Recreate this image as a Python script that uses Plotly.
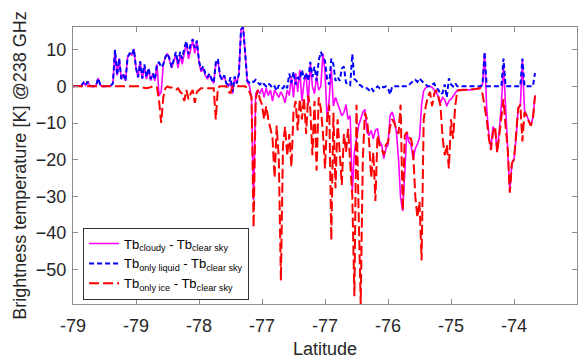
import plotly.graph_objects as go

# Latitude sampling of the track (degrees)
lat = [
    -79.500, -79.475, -79.450, -79.425, -79.400, -79.375, -79.350, -79.325, -79.300, -79.275,
    -79.250, -79.225, -79.200, -79.175, -79.150, -79.125, -79.100, -79.075, -79.050, -79.025,
    -79.000, -78.975, -78.950, -78.925, -78.900, -78.875, -78.850, -78.825, -78.800, -78.775,
    -78.750, -78.725, -78.700, -78.675, -78.650, -78.625, -78.600, -78.575, -78.550, -78.525,
    -78.500, -78.475, -78.450, -78.425, -78.400, -78.375, -78.350, -78.325, -78.300, -78.275,
    -78.250, -78.225, -78.200, -78.175, -78.150, -78.125, -78.100, -78.075, -78.050, -78.025,
    -78.000, -77.975, -77.950, -77.925, -77.900, -77.875, -77.850, -77.825, -77.800, -77.775,
    -77.750, -77.725, -77.700, -77.675, -77.650, -77.625, -77.600, -77.575, -77.550, -77.525,
    -77.500, -77.475, -77.450, -77.425, -77.400, -77.375, -77.350, -77.325, -77.300, -77.275,
    -77.250, -77.225, -77.200, -77.175, -77.150, -77.125, -77.100, -77.075, -77.050, -77.025,
    -77.000, -76.975, -76.950, -76.925, -76.900, -76.875, -76.850, -76.825, -76.800, -76.775,
    -76.750, -76.725, -76.700, -76.675, -76.650, -76.625, -76.600, -76.575, -76.550, -76.525,
    -76.500, -76.475, -76.450, -76.425, -76.400, -76.375, -76.350, -76.325, -76.300, -76.275,
    -76.250, -76.225, -76.200, -76.175, -76.150, -76.125, -76.100, -76.075, -76.050, -76.025,
    -76.000, -75.975, -75.950, -75.925, -75.900, -75.875, -75.850, -75.825, -75.800, -75.775,
    -75.750, -75.725, -75.700, -75.675, -75.650, -75.625, -75.600, -75.575, -75.550, -75.525,
    -75.500, -75.475, -75.450, -75.425, -75.400, -75.375, -75.350, -75.325, -75.300, -75.275,
    -75.250, -75.225, -75.200, -75.175, -75.150, -75.125, -75.100, -75.075, -75.050, -75.025,
    -75.000, -74.975, -74.950, -74.925, -74.900, -74.875, -74.850, -74.825, -74.800, -74.775,
    -74.750, -74.725, -74.700, -74.675, -74.650, -74.625, -74.600, -74.575, -74.550, -74.525,
    -74.500, -74.475, -74.450, -74.425, -74.400, -74.375, -74.350, -74.325, -74.300, -74.275,
    -74.250, -74.225, -74.200, -74.175, -74.150, -74.125, -74.100, -74.075, -74.050, -74.025,
    -74.000,
]

# Tb_cloudy - Tb_clear sky  [K]
tb_cloudy = [
    0, 0, 0, 0, 0.2, 1.0, 0.3, 1.3, 0.2, 0, 0, 0.3, 2.2, 0.4, 0, 0, 0, 0, 0.2, 0.8,
    10.0, 3.0, 7.6, 2.0, 3.2, 1.5, 8.0, 9.0, 8.5, 10.2, 5.0, 2.5, 6.8, 2.0, 5.5, 2.0, 4.6, 1.6, 3.5, 1.5,
    6.0, -2.5, -1.5, 6.0, 8.0, 9.0, 7.2, 5.0, 7.0, 8.5, 5.0, 8.5, 6.0, 9.0, 12.0, 7.5, 10.0, 12.5, 9.0, 12.0,
    6.5, 4.0, 5.0, 3.0, 2.0, 3.0, 1.8, 0.8, 6.0, 7.0, 2.8, 1.8, 3.0, 0.8, 0.0, 1.0, -2.0, 2.5, 0.8, 3.4,
    15.5, 16.2, 9.0, 1.2, 0.2, -3.0, -31.0, -2.0, -1.0, -2.0, -0.5, -3.0, -0.5, -2.5, -1.0, -4.0, -1.0, -2.0, -3.0, -1.5,
    -2.7, -4.5, -1.0, -2.5, 2.7, -3.0, 3.6, -1.5, 4.5, -4.0, 0.9, 3.6, -5.0, 6.3, 0.0, -2.0, 2.7, -1.0, 0.0, 9.0,
    4.0, -9.0, -3.6, 5.0, -5.4, -3.0, -4.5, -6.0, -8.0, -7.2, -5.0, -9.0, -8.0, -28.7, -17.9, -14.3, -10.7, -9.0, -7.0, -6.3,
    -12.5, -13.4, -12.0, -14.3, -12.0, -11.6, -15.0, -16.0, -19.7, -17.0, -16.0, -8.0, -7.0, -9.0, -12.5, -19.7, -30.5, -34.0, -24.0, -12.5,
    -15.2, -16.0, -20.0, -17.0, -15.7, -14.0, -5.0, -1.2, -0.4, 0.0, 0.0, -0.3, -1.0, -2.0, -2.7, -4.5, -3.0, -3.6, -5.4, -4.0,
    -3.5, -2.7, -1.8, -1.0, -1.1, -1.1, -1.0, -1.0, -0.9, -0.9, -0.9, -0.8, -0.6, -0.5, -0.4, 0.5, 9.0, -6.0, -13.0, -17.0,
    -11.0, -12.0, -17.9, -12.0, -5.0, 6.0, -6.0, -15.0, -28.7, -21.0, -19.7, -14.0, -6.0, -5.4, 7.2, -6.5, -8.0, -9.0, -10.7, -8.5,
    -2.5,
]

# Tb_only liquid - Tb_clear sky  [K]
tb_liquid = [
    0, 0, 0, 0, 0.2, 1.0, 0.3, 1.3, 0.2, 0, 0, 0.3, 2.2, 0.4, 0, 0, 0, 0, 0.2, 0.8,
    10.0, 3.0, 7.6, 2.0, 3.2, 1.5, 8.0, 9.0, 8.5, 10.2, 5.0, 2.5, 6.8, 2.2, 6.0, 2.5, 5.0, 2.0, 3.5, 1.8,
    6.3, 6.5, 5.2, 6.0, 8.0, 9.0, 7.5, 5.2, 7.5, 9.4, 6.2, 9.4, 7.5, 10.5, 12.3, 8.8, 11.5, 12.9, 10.5, 12.5,
    7.0, 4.5, 5.5, 3.5, 2.5, 3.5, 2.0, 1.0, 6.5, 7.5, 3.0, 1.8, 3.0, 0.8, 0.5, 2.5, -1.5, 2.7, 0.8, 3.4,
    15.5, 16.2, 9.0, 1.5, 1.0, 1.5, 1.2, 1.8, 1.0, 0.5, 1.2, 0.5, 0.0, 0.8, 0.3, -0.5, 0.0, -1.2, 0.3, -0.5,
    -0.5, 0.5, -0.5, 3.5, 1.0, 4.0, 0.5, 2.5, 1.8, 4.5, 2.0, 3.6, 1.5, 6.7, 2.5, 5.4, 1.5, 7.0, 9.4, 8.0,
    7.0, 2.0, 0.5, 7.6, 6.0, 1.5, 2.5, 1.5, 4.9, 5.4, 1.0, 0.5, 0.3, 8.8, 2.0, 1.5, 0.5, 0.3, -0.3, -0.5,
    -0.5, -1.0, -0.3, -1.3, -0.5, 0.0, -0.5, 0.0, -0.3, 0.0, -0.5, -2.2, 0.0, 0.0, 0.0, 0.0, 0.3, 0.0, 0.0, 0.0,
    0.3, 1.0, 1.3, 1.8, 1.2, 2.2, 1.5, 1.0, 0.4, 0.0, 0.0, 0.5, 0.8, -0.5, -0.9, -2.2, -1.8, 0.5, -3.0, 2.2,
    0.5, 0.0, 0.9, 0.0, 0, 0, 0, 0, 0, 0, 0, 0, 0, 0, 0, 0.5, 9.4, 0, 0, 0,
    0, 0, 0, 0, 0, 7.6, 0, 0, 0, 0, 0, 0, 0, 0, 7.6, 0, 0, 0, 0, 0,
    3.6,
]

# Tb_only ice - Tb_clear sky  [K]
tb_ice = [
    0, 0, 0, 0, 0, 0, 0, 0, 0, 0, 0, 0, 0, 0, 0, 0, 0, 0, 0, 0,
    0, 0, 0, 0, 0, 0, 0, 0, 0, 0, 0, 0, 0, -0.3, -0.5, -0.5, -0.4, -0.2, 0, -0.3,
    -0.3, -4.0, -10.0, -3.0, -0.5, 0.0, -0.3, -0.3, -0.6, -1.0, -0.5, -1.5, -2.0, -4.0, -1.0, -3.5, -2.0, -1.0, -4.5, -1.5,
    -1.0, -0.5, -0.5, -0.5, -0.5, -0.5, -0.3, -0.5, -9.0, -0.3, 0, 0, 0, 0, -1.5, -1.8, 0, 0, 0, 0,
    0, 0, 0, -0.5, -1.5, -3.0, -38.5, -3.5, -1.0, -3.5, -5.0, -9.0, -5.4, -9.0, -11.6, -14.0, -25.0, -10.7, -19.7, -53.0,
    -16.0, -11.0, -19.0, -13.0, -22.0, -7.0, -4.0, -12.0, -3.5, -9.0, -3.0, -13.0, -2.5, -6.0, -18.8, -4.0, -23.0, -3.0, -6.0, -12.5,
    -22.4, -9.0, -5.0, -42.0, -7.2, -27.8, -9.0, -17.9, -26.9, -13.0, -17.9, -11.6, -22.4, -30.0, -57.3, -5.0, -34.0, -59.4, -20.0, -7.2,
    -9.0, -15.0, -25.0, -18.0, -31.3, -13.4, -16.0, -17.0, -18.8, -16.0, -15.2, -11.0, -9.0, -10.0, -11.6, -13.0, -5.0, -34.0, -13.4, -12.5,
    -14.0, -14.3, -18.0, -30.0, -35.8, -31.4, -47.5, -9.0, -5.4, -2.7, -1.5, -5.4, -2.0, -1.0, -3.0, -5.4, -14.0, -18.8, -16.0, -22.4,
    -9.0, -14.3, -5.4, -1.3, -1.0, -0.9, -0.9, -0.9, -0.9, -0.9, -0.9, -0.8, -0.7, -0.6, -0.5, -2.0, -5.0, -9.0, -14.0, -17.4,
    -12.5, -11.0, -18.1, -13.0, -7.0, -3.5, -11.0, -17.0, -29.0, -21.0, -20.0, -14.0, -6.0, -5.0, -15.0, -7.0, -8.0, -9.5, -10.7, -9.0,
    -2.5,
]

x_tick_vals = [-79.5, -78.75, -78.0, -77.25, -76.5, -75.75, -75.0, -74.25, -73.5]
x_tick_text = ["-79", "-79", "-78", "-77", "-77", "-76", "-75", "-74", "-73"]
y_tick_vals = [-50, -40, -30, -20, -10, 0, 10]

FONT = "Liberation Sans, Arial, Helvetica, sans-serif"
AXC = "#8c8c8c"
TXT = "#262626"

fig = go.Figure()
fig.add_trace(go.Scatter(
    x=lat, y=tb_cloudy, mode="lines",
    name="Tb<sub>cloudy</sub> - Tb<sub>clear sky</sub>",
    line=dict(color="#FF00FF", width=1.6),
))
fig.add_trace(go.Scatter(
    x=lat, y=tb_liquid, mode="lines",
    name="Tb<sub>only liquid</sub> - Tb<sub>clear sky</sub>",
    line=dict(color="#0000FF", width=2, dash="5px,3px"),
))
fig.add_trace(go.Scatter(
    x=lat, y=tb_ice, mode="lines",
    name="Tb<sub>only ice</sub> - Tb<sub>clear sky</sub>",
    line=dict(color="#FF0000", width=2, dash="10px,4px"),
))

axis_common = dict(
    showline=True, linecolor=AXC, linewidth=1, mirror="allticks",
    ticks="inside", ticklen=5, tickcolor=AXC, tickwidth=1,
    showgrid=False, zeroline=False,
    tickfont=dict(family=FONT, size=18, color=TXT),
)

fig.update_layout(
    width=585, height=362,
    margin=dict(l=73, r=7, t=27, b=54),
    paper_bgcolor="white", plot_bgcolor="white",
    font=dict(family=FONT, color=TXT),
    showlegend=True,
    legend=dict(
        x=0.02, y=0.276, xanchor="left", yanchor="top",
        bgcolor="white", bordercolor="#333333", borderwidth=1,
        font=dict(family=FONT, size=13, color="#000000"),
        tracegroupgap=0, itemwidth=30,
    ),
    xaxis=dict(
        range=[-79.5, -73.5], tickvals=x_tick_vals, ticktext=x_tick_text,
        title=dict(text="Latitude", font=dict(family=FONT, size=18, color=TXT), standoff=7),
        ticklabelstandoff=5,
        **axis_common,
    ),
    yaxis=dict(
        range=[-59.4, 16.2], tickvals=y_tick_vals,
        title=dict(text="Brightness temperature [K] @238 GHz", font=dict(family=FONT, size=18, color=TXT), standoff=4),
        ticklabelstandoff=2,
        **axis_common,
    ),
)

fig.write_html("out.html")
